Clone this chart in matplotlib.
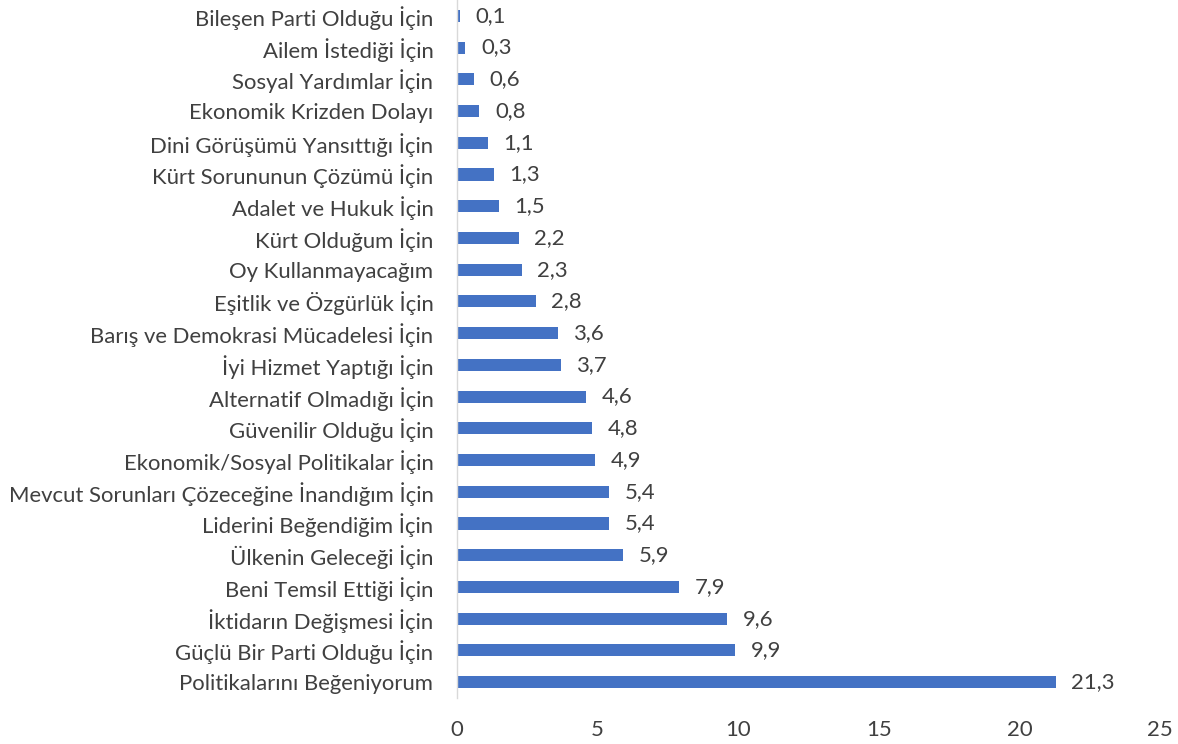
import matplotlib
matplotlib.use("Agg")
import matplotlib.pyplot as plt

categories = [
    "Politikalarını Beğeniyorum",
    "Güçlü Bir Parti Olduğu İçin",
    "İktidarın Değişmesi İçin",
    "Beni Temsil Ettiği İçin",
    "Ülkenin Geleceği İçin",
    "Liderini Beğendiğim İçin",
    "Mevcut Sorunları Çözeceğine İnandığım İçin",
    "Ekonomik/Sosyal Politikalar İçin",
    "Güvenilir Olduğu İçin",
    "Alternatif Olmadığı İçin",
    "İyi Hizmet Yaptığı İçin",
    "Barış ve Demokrasi Mücadelesi İçin",
    "Eşitlik ve Özgürlük İçin",
    "Oy Kullanmayacağım",
    "Kürt Olduğum İçin",
    "Adalet ve Hukuk İçin",
    "Kürt Sorununun Çözümü İçin",
    "Dini Görüşümü Yansıttığı İçin",
    "Ekonomik Krizden Dolayı",
    "Sosyal Yardımlar İçin",
    "Ailem İstediği İçin",
    "Bileşen Parti Olduğu İçin",
]
values = [21.3, 9.9, 9.6, 7.9, 5.9, 5.4, 5.4, 4.9, 4.8, 4.6, 3.7, 3.6, 2.8,
          2.3, 2.2, 1.5, 1.3, 1.1, 0.8, 0.6, 0.3, 0.1]
xticks = [0, 5, 10, 15, 20, 25]

plt.rcParams['font.family'] = ['Lato', 'DejaVu Sans']
text_color = "#404040"
fs = 15.9

fig = plt.figure(figsize=(11.78, 7.44), dpi=100)
ax = fig.add_axes([457 / 1178, 1 - 698 / 744, (1160 - 457) / 1178, (698 - 0) / 744])

pos = list(range(len(categories)))
ax.barh(pos, values, height=0.38, color="#4472C4")
ax.set_ylim(-0.5, len(categories) - 0.5)
ax.set_xlim(0, 25)
ax.set_yticks(pos)
ax.set_yticklabels(categories, fontsize=fs, color=text_color)
ax.set_xticks(xticks)
ax.set_xticklabels([str(t) for t in xticks], fontsize=fs, color=text_color)
ax.tick_params(axis='both', length=0)
ax.tick_params(axis='y', pad=17)
ax.tick_params(axis='x', pad=15.5)

for s in ['top', 'right', 'bottom']:
    ax.spines[s].set_visible(False)
ax.spines['left'].set_color("#D9D9D9")
ax.spines['left'].set_linewidth(1.0)

for p, v in zip(pos, values):
    ax.text(v + 0.55, p, f"{v:.1f}".replace('.', ','), va='center', ha='left',
            fontsize=fs, color=text_color)

fig.savefig("out.png", dpi=100)
